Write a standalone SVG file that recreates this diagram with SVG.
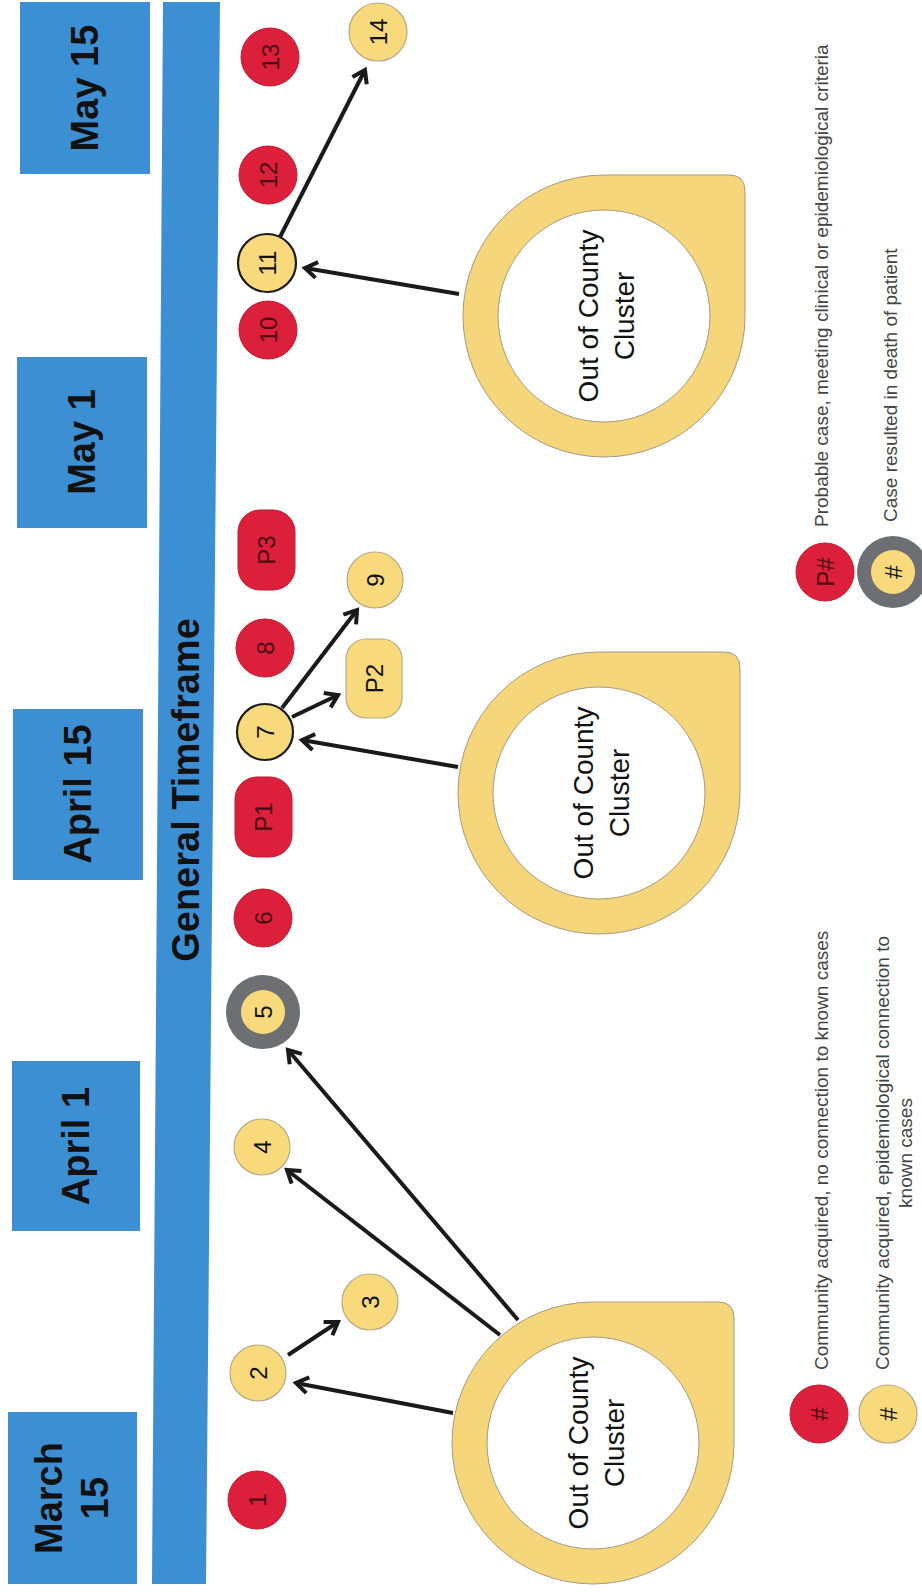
<svg xmlns="http://www.w3.org/2000/svg" width="922" height="1592" viewBox="0 0 922 1592">
<style>
.box{fill:#3c8fd2}
.dl{font-family:"Liberation Sans",Arial,sans-serif;font-weight:bold;font-size:38px;fill:#111;text-anchor:middle;dominant-baseline:central}
.red{fill:#dc1f3a;stroke:#c21a33;stroke-width:1}
.yel{fill:#f8da7c;stroke:#b9a888;stroke-width:1.2}
.yelk{fill:#f8da7c;stroke:#1a1a1a;stroke-width:2.2}
.ring{fill:#6e6f72}
.nl{font-family:"Liberation Sans",Arial,sans-serif;font-size:24px;text-anchor:middle;dominant-baseline:central}
.nr{fill:#4a0d14}
.ny{fill:#111}
.cl-outer{fill:#f6d67a;stroke:#a89a80;stroke-width:1}
.cl-inner{fill:#fff;stroke:#a89a80;stroke-width:1}
.ct{font-family:"Liberation Sans",Arial,sans-serif;font-size:28px;fill:#111;text-anchor:middle;dominant-baseline:central}
.lg{font-family:"Liberation Sans",Arial,sans-serif;font-size:19px;fill:#444;dominant-baseline:central}
.conn line{stroke:#1a1a1a;stroke-width:4;marker-end:url(#ah)}
</style>
<defs>
<marker id="ah" viewBox="0 0 20 20" refX="16" refY="10" markerWidth="20" markerHeight="20" orient="auto" markerUnits="userSpaceOnUse">
<path d="M4,2 L16,10 L4,18" fill="none" stroke="#1a1a1a" stroke-width="4" stroke-linejoin="miter"/>
</marker>
</defs>
<rect width="922" height="1592" fill="#fff"/>

<g id="timeline">
<polygon points="163,2 220,2 206,1584 152,1584" class="box"/>
<text class="dl" font-size="39" transform="translate(186,790) rotate(-90)">General Timeframe</text>
</g>

<g id="date-may15"><rect class="box" x="20" y="2" width="130" height="172"/><text class="dl" transform="translate(85,88) rotate(-90)">May 15</text></g>
<g id="date-may1"><rect class="box" x="17" y="357" width="130" height="171"/><text class="dl" transform="translate(82,442) rotate(-90)">May 1</text></g>
<g id="date-apr15"><rect class="box" x="13" y="709" width="130" height="171"/><text class="dl" transform="translate(78,794) rotate(-90)">April 15</text></g>
<g id="date-apr1"><rect class="box" x="12" y="1061" width="128" height="170"/><text class="dl" transform="translate(76,1146) rotate(-90)">April 1</text></g>
<g id="date-mar15"><rect class="box" x="8" y="1412" width="129" height="172"/><text class="dl" transform="translate(72,1498) rotate(-90)"><tspan x="0" y="-23">March</tspan><tspan x="0" y="23">15</tspan></text></g>

<g id="cluster1">
<path class="cl-outer" d="M452,1443 A141,141 0 0 0 593,1584 A141,141 0 0 0 734,1443 L734,1318 Q734,1302 718,1302 L593,1302 A141,141 0 0 0 452,1443 Z"/>
<circle class="cl-inner" cx="593" cy="1443" r="106"/>
<text class="ct" transform="translate(596,1443) rotate(-90)"><tspan x="0" y="-18">Out of County</tspan><tspan x="0" y="18">Cluster</tspan></text>
</g>
<g id="cluster2">
<path class="cl-outer" d="M458,793 A141,141 0 0 0 599,934 A141,141 0 0 0 740,793 L740,668 Q740,652 724,652 L599,652 A141,141 0 0 0 458,793 Z"/>
<circle class="cl-inner" cx="599" cy="793" r="106"/>
<text class="ct" transform="translate(601,793) rotate(-90)"><tspan x="0" y="-18">Out of County</tspan><tspan x="0" y="18">Cluster</tspan></text>
</g>
<g id="cluster3">
<path class="cl-outer" d="M463,316 A141,141 0 0 0 604,457 A141,141 0 0 0 745,316 L745,191 Q745,175 729,175 L604,175 A141,141 0 0 0 463,316 Z"/>
<circle class="cl-inner" cx="604" cy="316" r="106"/>
<text class="ct" transform="translate(606,316) rotate(-90)"><tspan x="0" y="-18">Out of County</tspan><tspan x="0" y="18">Cluster</tspan></text>
</g>

<g id="n1"><circle class="red" cx="257" cy="1500" r="29"/><text class="nl nr" transform="translate(257,1500) rotate(-90)">1</text></g>
<g id="n2"><circle class="yel" cx="258" cy="1373" r="28"/><text class="nl ny" transform="translate(258,1373) rotate(-90)">2</text></g>
<g id="n3"><circle class="yel" cx="370" cy="1302" r="28"/><text class="nl ny" transform="translate(370,1302) rotate(-90)">3</text></g>
<g id="n4"><circle class="yel" cx="262" cy="1147" r="28"/><text class="nl ny" transform="translate(262,1147) rotate(-90)">4</text></g>
<g id="n5"><circle class="ring" cx="263" cy="1012" r="37"/><circle fill="#f8da7c" cx="263" cy="1012" r="22"/><text class="nl ny" transform="translate(263,1012) rotate(-90)">5</text></g>
<g id="n6"><circle class="red" cx="263" cy="918" r="29"/><text class="nl nr" transform="translate(263,918) rotate(-90)">6</text></g>
<g id="nP1"><rect class="red" x="235" y="777" width="57" height="80" rx="22"/><text class="nl nr" transform="translate(263.5,817) rotate(-90)">P1</text></g>
<g id="n7"><circle class="yelk" cx="265" cy="732" r="28"/><text class="nl ny" transform="translate(265,732) rotate(-90)">7</text></g>
<g id="nP2"><rect class="yel" x="346" y="639" width="56" height="79" rx="20"/><text class="nl ny" transform="translate(374,678.5) rotate(-90)">P2</text></g>
<g id="n8"><circle class="red" cx="265" cy="648" r="29"/><text class="nl nr" transform="translate(265,648) rotate(-90)">8</text></g>
<g id="n9"><circle class="yel" cx="375" cy="580" r="28"/><text class="nl ny" transform="translate(375,580) rotate(-90)">9</text></g>
<g id="nP3"><rect class="red" x="238" y="510" width="57" height="80" rx="22"/><text class="nl nr" transform="translate(266.5,550) rotate(-90)">P3</text></g>
<g id="n10"><circle class="red" cx="268" cy="330" r="29"/><text class="nl nr" transform="translate(268,330) rotate(-90)">10</text></g>
<g id="n11"><circle class="yelk" cx="267" cy="263" r="29"/><text class="nl ny" transform="translate(267,263) rotate(-90)">11</text></g>
<g id="n12"><circle class="red" cx="268" cy="175" r="29"/><text class="nl nr" transform="translate(268,175) rotate(-90)">12</text></g>
<g id="n13"><circle class="red" cx="270" cy="57" r="29"/><text class="nl nr" transform="translate(270,57) rotate(-90)">13</text></g>
<g id="n14"><circle class="yel" cx="378" cy="32" r="29"/><text class="nl ny" transform="translate(378,32) rotate(-90)">14</text></g>

<g id="connectors" class="conn">
<line x1="453" y1="1413" x2="296" y2="1383"/>
<line x1="288" y1="1355" x2="338" y2="1322"/>
<line x1="500" y1="1335" x2="287" y2="1170"/>
<line x1="518" y1="1320" x2="288" y2="1050"/>
<line x1="458" y1="767" x2="302" y2="740"/>
<line x1="292" y1="717" x2="338" y2="695"/>
<line x1="282" y1="708" x2="357" y2="610"/>
<line x1="459" y1="294" x2="305" y2="268"/>
<line x1="280" y1="237" x2="365" y2="70"/>
</g>

<g id="legend">
<g id="lg-community"><circle class="red" cx="819" cy="1414" r="29"/><text class="nl nr" transform="translate(819,1414) rotate(-90)">#</text>
<text class="lg" transform="translate(821,1370) rotate(-90)">Community acquired, no connection to known cases</text></g>
<g id="lg-epi"><circle class="yel" cx="888" cy="1414" r="29"/><text class="nl ny" transform="translate(888,1414) rotate(-90)">#</text>
<text class="lg" text-anchor="middle" transform="translate(882,1153) rotate(-90)"><tspan x="0" y="0">Community acquired, epidemiological connection to</tspan><tspan x="0" y="23">known cases</tspan></text></g>
<g id="lg-probable"><circle class="red" cx="825" cy="572" r="29"/><text class="nl nr" transform="translate(825,572) rotate(-90)">P#</text>
<text class="lg" transform="translate(821,527) rotate(-90)">Probable case, meeting clinical or epidemiological criteria</text></g>
<g id="lg-death"><circle class="ring" cx="893" cy="572" r="36"/><circle fill="#f8da7c" cx="893" cy="572" r="22"/><text class="nl ny" transform="translate(893,572) rotate(-90)">#</text>
<text class="lg" transform="translate(890,522) rotate(-90)">Case resulted in death of patient</text></g>
</g>
</svg>
